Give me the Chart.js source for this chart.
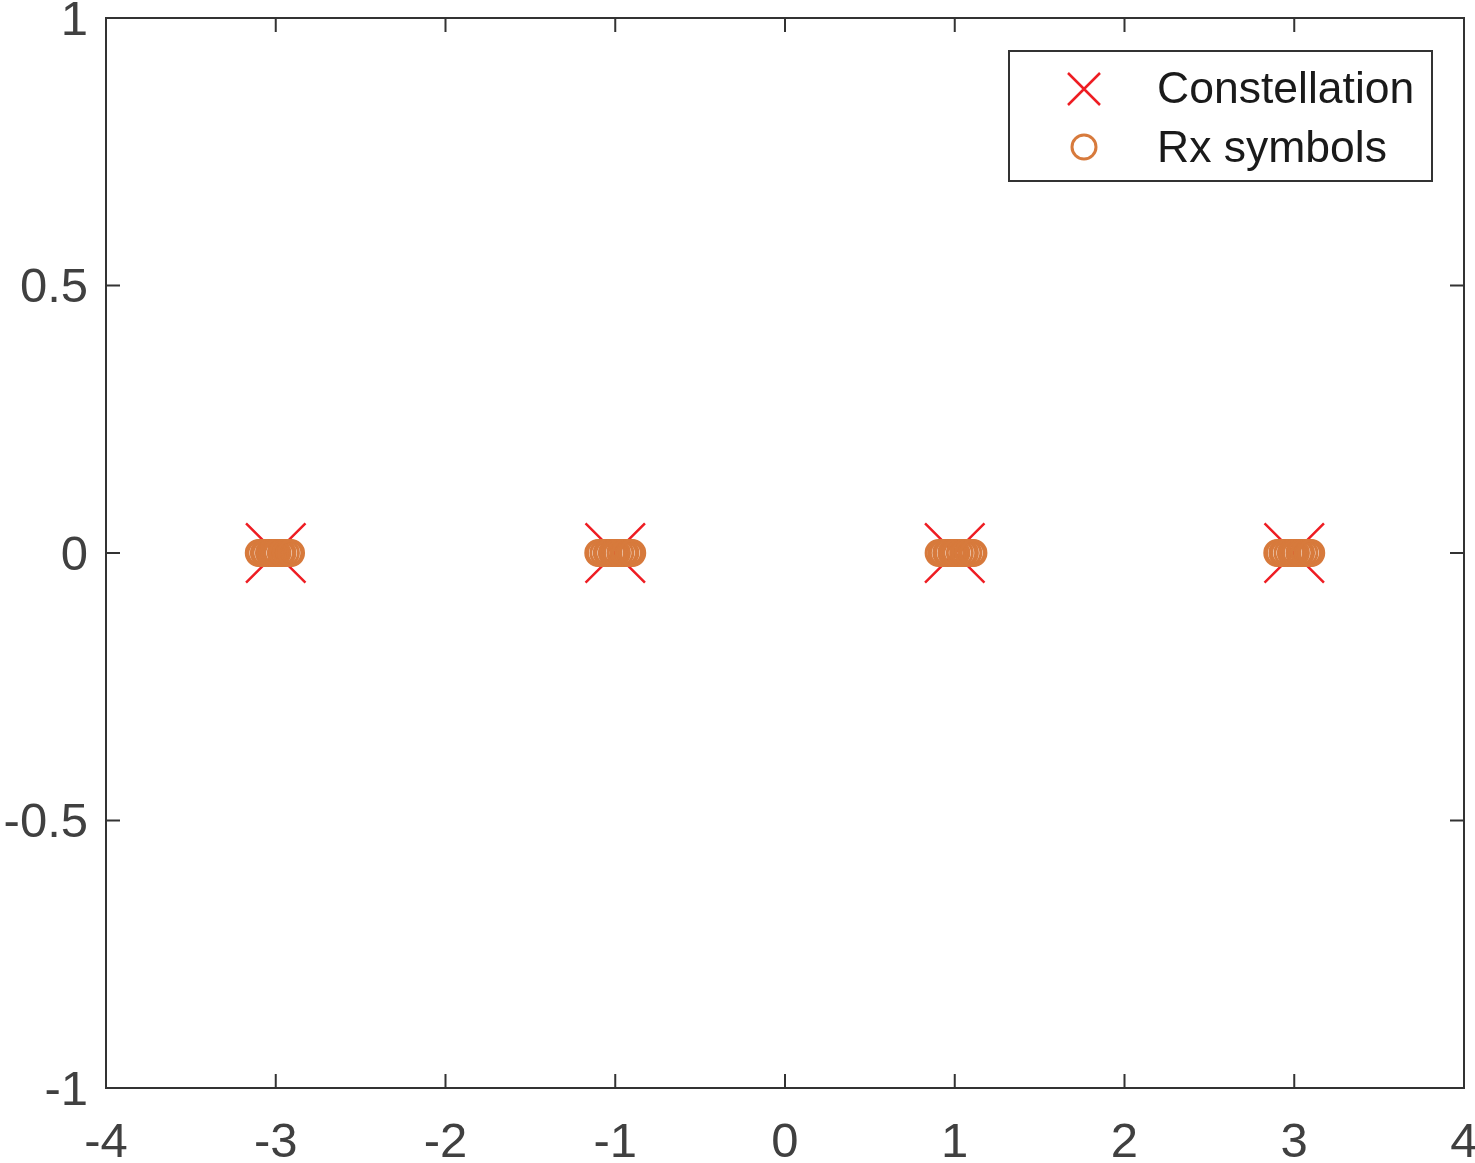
<!DOCTYPE html>
<html>
<head>
<meta charset="utf-8">
<script src="https://cdn.jsdelivr.net/npm/chart.js@4"></script>
<style>
  html, body { margin: 0; padding: 0; background: #fff; }
</style>
</head>
<body>
<canvas id="grafico" width="1475" height="1163"></canvas>
<script>
// pontos da constelacao (4-PAM)
const constelacaoX = [-3, -1, 1, 3];
const constelacaoY = [0, 0, 0, 0];

// simbolos recebidos (todos em y = 0)
const rxX = [
  -3.10, -3.09, -3.07, -3.06, -3.04, -3.03, -3.02, -3.01, -3.00, -2.99, -2.97, -2.96, -2.94, -2.92, -2.91,
  -1.10, -1.09, -1.07, -1.05, -1.04, -1.02, -1.01, -1.00, -0.99, -0.97, -0.95, -0.94, -0.92, -0.91, -0.90,
  0.905, 0.92, 0.93, 0.95, 0.96, 0.98, 0.99, 1.00, 1.01, 1.03, 1.05, 1.06, 1.08, 1.10, 1.11,
  2.90, 2.91, 2.93, 2.94, 2.96, 2.98, 2.99, 3.00, 3.01, 3.03, 3.04, 3.06, 3.08, 3.09, 3.10
];
const rxY = [
  0, 0, 0, 0, 0, 0, 0, 0, 0, 0, 0, 0, 0, 0, 0,
  0, 0, 0, 0, 0, 0, 0, 0, 0, 0, 0, 0, 0, 0, 0,
  0, 0, 0, 0, 0, 0, 0, 0, 0, 0, 0, 0, 0, 0, 0,
  0, 0, 0, 0, 0, 0, 0, 0, 0, 0, 0, 0, 0, 0, 0
];

const xTicks = [-4, -3, -2, -1, 0, 1, 2, 3, 4];
const yTicks = [-1, -0.5, 0, 0.5, 1];
const legendas = ["Constellation", "Rx symbols"];

const corEixo = "#333333";
const corTexto = "#404040";
const corX = "#ee1d23";
const corRx = "#d77a3c";
const fonteEixo = { family: "'Liberation Sans', Arial, Helvetica, sans-serif", size: 49 };

function juntaPontos(xs, ys) {
  return xs.map((x, i) => ({ x: x, y: ys[i] }));
}

// ticks para dentro, caixa fechada e legenda dentro do grafico
const moldura = {
  id: "moldura",
  afterDraw(chart) {
    const ctx = chart.ctx;
    const area = chart.chartArea;
    const sx = chart.scales.x;
    const sy = chart.scales.y;
    const tam = 14;

    ctx.save();
    ctx.strokeStyle = corEixo;
    ctx.lineWidth = 2;
    ctx.strokeRect(area.left, area.top, area.right - area.left, area.bottom - area.top);

    ctx.beginPath();
    xTicks.forEach((v) => {
      const px = sx.getPixelForValue(v);
      ctx.moveTo(px, area.bottom);
      ctx.lineTo(px, area.bottom - tam);
      ctx.moveTo(px, area.top);
      ctx.lineTo(px, area.top + tam);
    });
    yTicks.forEach((v) => {
      const py = sy.getPixelForValue(v);
      ctx.moveTo(area.left, py);
      ctx.lineTo(area.left + tam, py);
      ctx.moveTo(area.right, py);
      ctx.lineTo(area.right - tam, py);
    });
    ctx.stroke();

    // legenda
    const caixa = { x: 1009, y: 51, w: 423, h: 130 };
    ctx.fillStyle = "#ffffff";
    ctx.fillRect(caixa.x, caixa.y, caixa.w, caixa.h);
    ctx.strokeStyle = corEixo;
    ctx.strokeRect(caixa.x, caixa.y, caixa.w, caixa.h);

    const mx = 1084;
    const linhas = [89, 147];

    ctx.strokeStyle = corX;
    ctx.lineWidth = 2.5;
    ctx.beginPath();
    ctx.moveTo(mx - 16, linhas[0] - 16);
    ctx.lineTo(mx + 16, linhas[0] + 16);
    ctx.moveTo(mx + 16, linhas[0] - 16);
    ctx.lineTo(mx - 16, linhas[0] + 16);
    ctx.stroke();

    ctx.strokeStyle = corRx;
    ctx.lineWidth = 3;
    ctx.beginPath();
    ctx.arc(mx, linhas[1], 12, 0, Math.PI * 2);
    ctx.stroke();

    ctx.fillStyle = "#1a1a1a";
    ctx.font = "44.5px 'Liberation Sans', Arial, Helvetica, sans-serif";
    ctx.textAlign = "left";
    ctx.textBaseline = "middle";
    ctx.fillText(legendas[0], 1157, linhas[0] + 2);
    ctx.fillText(legendas[1], 1157, linhas[1] + 3);
    ctx.restore();
  },
};

const grafico = document.getElementById("grafico");

const graficoConstelacao = new Chart(grafico, {
  type: "scatter",
  data: {
    datasets: [
      {
        label: legendas[0],
        data: juntaPontos(constelacaoX, constelacaoY),
        pointStyle: "crossRot",
        pointRadius: 42,
        pointBorderWidth: 2.5,
        borderColor: corX,
        backgroundColor: corX,
        order: 2,
      },
      {
        label: legendas[1],
        data: juntaPontos(rxX, rxY),
        pointStyle: "circle",
        pointRadius: 12.5,
        pointBorderWidth: 3,
        borderColor: corRx,
        backgroundColor: "rgba(0,0,0,0)",
        order: 1,
      },
    ],
  },
  options: {
    responsive: false,
    animation: false,
    layout: { autoPadding: false, padding: { top: 18, right: 11, left: 0, bottom: 0 } },
    plugins: {
      legend: { display: false },
      tooltip: { enabled: false },
    },
    scales: {
      x: {
        type: "linear",
        min: -4,
        max: 4,
        ticks: {
          stepSize: 1,
          color: corTexto,
          font: fonteEixo,
          padding: 26,
          maxRotation: 0,
          callback: (v) => String(v),
        },
        grid: { display: false, drawTicks: false },
        border: { display: true, color: corEixo, width: 2 },
        afterFit(s) {
          s.height = 75;
          s.paddingLeft = 0;
          s.paddingRight = 0;
        },
      },
      y: {
        type: "linear",
        min: -1,
        max: 1,
        ticks: {
          stepSize: 0.5,
          color: corTexto,
          font: fonteEixo,
          padding: 18,
          labelOffset: 3,
          callback: (v) => String(v),
        },
        grid: { display: false, drawTicks: false },
        border: { display: true, color: corEixo, width: 2 },
        afterFit(s) {
          s.width = 106;
          s.paddingTop = 0;
          s.paddingBottom = 0;
        },
      },
    },
  },
  plugins: [moldura],
});
</script>
</body>
</html>
